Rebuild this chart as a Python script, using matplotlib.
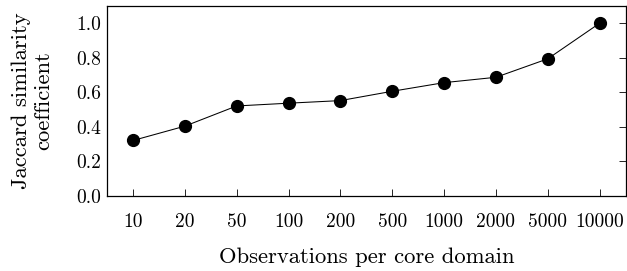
import matplotlib
matplotlib.use("Agg")
from matplotlib import pyplot as plt

plt.rcParams['font.family'] = ['cmr10', 'DejaVu Serif']
plt.rcParams['axes.formatter.use_mathtext'] = True

# Data
observations = ['10', '20', '50', '100', '200', '500', '1000', '2000', '5000', '10000']
jaccard = [0.321, 0.404, 0.521, 0.537, 0.552, 0.606, 0.656, 0.687, 0.794, 1.0]
y_ticks = [0.0, 0.2, 0.4, 0.6, 0.8, 1.0]

fig = plt.figure(figsize=(6.27, 2.71), dpi=100)
ax = fig.add_axes([0.1707, 0.277, 0.827, 0.701])

x = range(len(observations))
ax.plot(x, jaccard, color='black', linewidth=0.75, marker='o', markersize=8.5)

ax.set_xlim(-0.5, len(observations) - 0.5)
ax.set_ylim(0, 1.1)
ax.set_xticks(list(x))
ax.set_xticklabels(observations)
ax.set_yticks(y_ticks)
ax.set_yticklabels(['%.1f' % v for v in y_ticks])

ax.tick_params(axis='x', direction='in', length=5, width=0.6, labelsize=14, pad=12)
ax.tick_params(axis='y', direction='in', length=5, width=0.6, labelsize=14,
               left=False, right=True, pad=4)

for s in ax.spines.values():
    s.set_linewidth(0.9)

ax.set_xlabel('Observations per core domain', fontsize=16.3, labelpad=12)
ax.set_ylabel('Jaccard similarity\ncoefficient', fontsize=16.3, labelpad=17,
              multialignment='center', linespacing=1.15)

fig.savefig('out.png', dpi=100)
